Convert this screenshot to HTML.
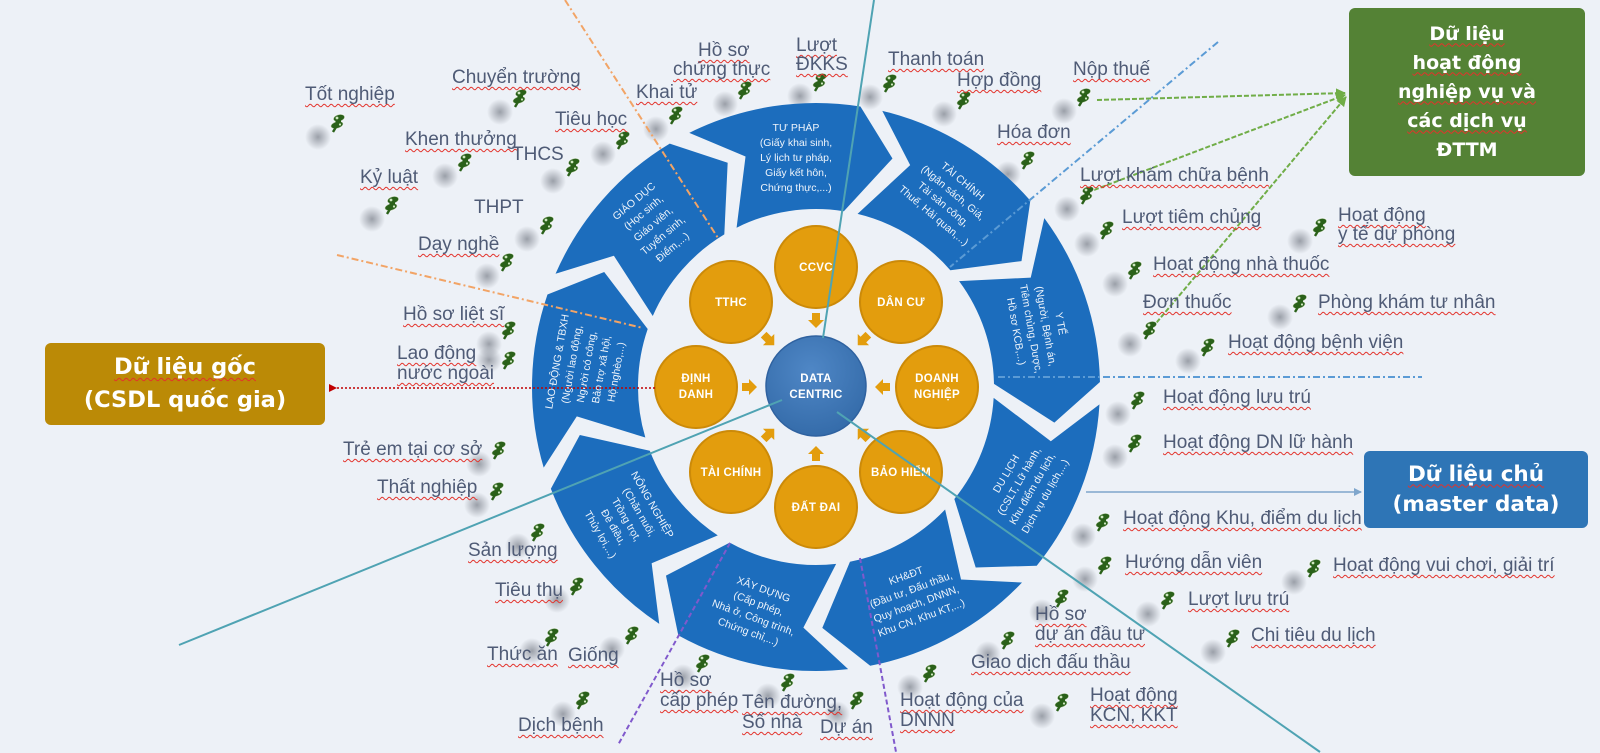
<!DOCTYPE html>
<html>
<head>
<meta charset="utf-8">
<style>
  html,body{margin:0;padding:0;}
  body{width:1600px;height:753px;overflow:hidden;background:#edf1f7;position:relative;font-family:"Liberation Sans","DejaVu Sans",sans-serif;}
  svg{position:absolute;left:0;top:0;}
  .l{position:absolute;font-size:19px;line-height:20px;color:#4f5b76;white-space:nowrap;
     text-decoration:underline wavy #e3322b;text-decoration-thickness:1px;text-underline-offset:3px;text-decoration-skip-ink:none;}
  .nu{text-decoration:none;}
  .box{position:absolute;color:#fff;font-family:"DejaVu Sans","Liberation Sans",sans-serif;font-weight:bold;text-align:center;border-radius:6px;
       display:flex;flex-direction:column;justify-content:center;align-items:center;}
  .u{text-decoration:underline wavy #e3322b;text-decoration-thickness:1px;text-underline-offset:3px;text-decoration-skip-ink:none;}
</style>
</head>
<body>
<svg width="1600" height="753" viewBox="0 0 1600 753" xmlns="http://www.w3.org/2000/svg">
  <defs>
    <radialGradient id="sg">
      <stop offset="0" stop-color="#868b95" stop-opacity="0.8"/>
      <stop offset="1" stop-color="#868b95" stop-opacity="0"/>
    </radialGradient>
    <circle id="sh" r="13" fill="url(#sg)"/>
    <g id="pin">
      <g stroke="#ffffff" stroke-width="1.2" stroke-opacity="0.7">
        <ellipse cx="1" cy="-5" rx="6" ry="3.6" transform="rotate(-15 1 -5)" fill="#2a6119"/>
        <ellipse cx="-1" cy="2" rx="6.5" ry="3.6" transform="rotate(-15 -1 2)" fill="#2a6119"/>
      </g>
      <rect x="-2.5" y="-5" width="5.5" height="7" fill="#2a6119"/>
      <path d="M-2,4 L-5,9" stroke="#2a6119" stroke-width="2.4"/>
      <circle cx="-1" cy="-5" r="1.4" fill="#cfe8c0"/>
      <circle cx="2" cy="1.5" r="1.1" fill="#cfe8c0"/>
    </g>
    <path id="seg" d="M689.28,132.84 A284,284 0 0 1 860.43,106.50 L892.47,158.45 L843.84,211.19 A178,178 0 0 0 736.58,227.70 L745.54,156.53 Z" fill="#1c6dbd"/>
    <path id="oa" d="M0,-8 L8,0 L4,0 L4,7 L-4,7 L-4,0 L-8,0 Z" fill="#e39d0d"/>
    <radialGradient id="dg" cx="0.45" cy="0.35" r="0.7">
      <stop offset="0" stop-color="#4f87c6"/>
      <stop offset="1" stop-color="#336aa8"/>
    </radialGradient>
    <marker id="mr" markerWidth="8" markerHeight="8" refX="1" refY="4" orient="auto-start-reverse" markerUnits="userSpaceOnUse">
      <path d="M8,0 L0,4 L8,8 Z" fill="#c00000"/>
    </marker>
    <marker id="mg" markerWidth="10" markerHeight="10" refX="9" refY="5" orient="auto" markerUnits="userSpaceOnUse">
      <path d="M0,0 L10,5 L0,10 Z" fill="#70ad47"/>
    </marker>
    <marker id="mb" markerWidth="8" markerHeight="8" refX="7" refY="4" orient="auto" markerUnits="userSpaceOnUse">
      <path d="M0,0 L8,4 L0,8 Z" fill="#7fa6cc"/>
    </marker>
  </defs>

  <!-- pin shadows -->
  <g>
    <use href="#sh" x="318" y="137"/><use href="#sh" x="500" y="112"/><use href="#sh" x="445" y="176"/>
    <use href="#sh" x="553" y="181"/><use href="#sh" x="603" y="154"/><use href="#sh" x="372" y="219"/>
    <use href="#sh" x="527" y="239"/><use href="#sh" x="487" y="276"/><use href="#sh" x="489" y="344"/>
    <use href="#sh" x="656" y="129"/><use href="#sh" x="725" y="104"/><use href="#sh" x="800" y="96"/>
    <use href="#sh" x="870" y="97"/><use href="#sh" x="944" y="114"/><use href="#sh" x="1064" y="111"/>
    <use href="#sh" x="1008" y="174"/><use href="#sh" x="1067" y="209"/><use href="#sh" x="1087" y="244"/>
    <use href="#sh" x="1300" y="241"/><use href="#sh" x="1115" y="284"/><use href="#sh" x="1130" y="344"/>
    <use href="#sh" x="1280" y="317"/><use href="#sh" x="1188" y="361"/><use href="#sh" x="1118" y="414"/>
    <use href="#sh" x="1115" y="457"/><use href="#sh" x="1083" y="536"/><use href="#sh" x="1085" y="579"/>
    <use href="#sh" x="1294" y="582"/><use href="#sh" x="1148" y="614"/><use href="#sh" x="1213" y="652"/>
    <use href="#sh" x="1042" y="612"/><use href="#sh" x="988" y="654"/><use href="#sh" x="910" y="687"/>
    <use href="#sh" x="1042" y="716"/><use href="#sh" x="518" y="546"/><use href="#sh" x="557" y="600"/>
    <use href="#sh" x="532" y="651"/><use href="#sh" x="612" y="649"/><use href="#sh" x="563" y="714"/>
    <use href="#sh" x="683" y="677"/><use href="#sh" x="768" y="696"/><use href="#sh" x="837" y="714"/>
    <use href="#sh" x="489" y="360"/><use href="#sh" x="479" y="464"/><use href="#sh" x="477" y="505"/>
  </g>

  <!-- ring segments -->
  <g font-family="Liberation Sans, DejaVu Sans, sans-serif" font-size="10.5" fill="#eef4fb" text-anchor="middle">
    <g>
      <use href="#seg"/>
      <text x="796"><tspan x="796" y="131">TƯ PHÁP</tspan><tspan x="796" y="146">(Giấy khai sinh,</tspan><tspan x="796" y="161">Lý lịch tư pháp,</tspan><tspan x="796" y="176">Giấy kết hôn,</tspan><tspan x="796" y="191">Chứng thực,...)</tspan></text>
    </g>
    <g transform="rotate(40 816 387)">
      <use href="#seg"/>
      <text><tspan x="796" y="138.5">TÀI CHÍNH</tspan><tspan x="796" y="153.5">(Ngân sách, Giá,</tspan><tspan x="796" y="168.5">Tài sản công,</tspan><tspan x="796" y="183.5">Thuế, Hải quan,...)</tspan></text>
    </g>
    <g transform="rotate(80 816 387)">
      <use href="#seg"/>
      <text><tspan x="796" y="138.5">Y TẾ</tspan><tspan x="796" y="153.5">(Người, Bệnh án,</tspan><tspan x="796" y="168.5">Tiêm chủng, Dược,</tspan><tspan x="796" y="183.5">Hồ sơ KCB,...)</tspan></text>
    </g>
    <g transform="rotate(120 816 387)">
      <use href="#seg"/>
      <text transform="rotate(180 796 157)"><tspan x="796" y="138.5">DU LỊCH</tspan><tspan x="796" y="153.5">(CSLT, Lữ hành,</tspan><tspan x="796" y="168.5">Khu điểm du lịch,</tspan><tspan x="796" y="183.5">Dịch vụ du lịch,...)</tspan></text>
    </g>
    <g transform="rotate(160 816 387)">
      <use href="#seg"/>
      <text transform="rotate(180 796 157)"><tspan x="796" y="138.5">KH&amp;ĐT</tspan><tspan x="796" y="153.5">(Đầu tư, Đấu thầu,</tspan><tspan x="796" y="168.5">Quy hoạch, DNNN,</tspan><tspan x="796" y="183.5">Khu CN, Khu KT,...)</tspan></text>
    </g>
    <g transform="rotate(200 816 387)">
      <use href="#seg"/>
      <text transform="rotate(180 796 157)"><tspan x="796" y="138.5">XÂY DỰNG</tspan><tspan x="796" y="153.5">(Cấp phép,</tspan><tspan x="796" y="168.5">Nhà ở, Công trình,</tspan><tspan x="796" y="183.5">Chứng chỉ,...)</tspan></text>
    </g>
    <g transform="rotate(240 816 387)">
      <use href="#seg"/>
      <text transform="rotate(180 796 157)"><tspan x="796" y="131">NÔNG NGHIỆP</tspan><tspan x="796" y="146">(Chăn nuôi,</tspan><tspan x="796" y="161">Trồng trọt,</tspan><tspan x="796" y="176">Đê điều,</tspan><tspan x="796" y="191">Thủy lợi,...)</tspan></text>
    </g>
    <g transform="rotate(280 816 387)">
      <use href="#seg"/>
      <text><tspan x="796" y="131">LAO ĐỘNG &amp; TBXH</tspan><tspan x="796" y="146">(Người lao động,</tspan><tspan x="796" y="161">Người có công,</tspan><tspan x="796" y="176">Bảo trợ xã hội,</tspan><tspan x="796" y="191">Hộ nghèo,...)</tspan></text>
    </g>
    <g transform="rotate(320 816 387)">
      <use href="#seg"/>
      <text><tspan x="796" y="131">GIÁO DỤC</tspan><tspan x="796" y="146">(Học sinh,</tspan><tspan x="796" y="161">Giáo viên,</tspan><tspan x="796" y="176">Tuyển sinh,</tspan><tspan x="796" y="191">Điểm,...)</tspan></text>
    </g>
  </g>

  <!-- inner circles -->
  <g fill="#e39d0d" stroke="#cc8a08" stroke-width="2">
    <circle cx="816" cy="267" r="41"/>
    <circle cx="901" cy="302" r="41"/>
    <circle cx="937" cy="387" r="41"/>
    <circle cx="901" cy="472" r="41"/>
    <circle cx="816" cy="507" r="41"/>
    <circle cx="731" cy="472" r="41"/>
    <circle cx="696" cy="387" r="41"/>
    <circle cx="731" cy="302" r="41"/>
  </g>
  <circle cx="816" cy="386" r="50" fill="url(#dg)" stroke="#2f62a0" stroke-width="1.5"/>
  <g>
    <use href="#oa" transform="translate(816 320) rotate(-180)"/>
    <use href="#oa" transform="translate(863.4 339.6) rotate(-135)"/>
    <use href="#oa" transform="translate(883 387) rotate(-90)"/>
    <use href="#oa" transform="translate(863.4 434.4) rotate(-45)"/>
    <use href="#oa" transform="translate(816 454) rotate(0)"/>
    <use href="#oa" transform="translate(768.6 434.4) rotate(45)"/>
    <use href="#oa" transform="translate(749 387) rotate(90)"/>
    <use href="#oa" transform="translate(768.6 339.6) rotate(135)"/>
  </g>
  <g font-family="Liberation Sans, DejaVu Sans, sans-serif" font-weight="bold" font-size="11.5" fill="#ffffff" text-anchor="middle" letter-spacing="0.3">
    <text x="816" y="271">CCVC</text>
    <text x="901" y="306">DÂN CƯ</text>
    <text x="937" y="382">DOANH</text><text x="937" y="398">NGHIỆP</text>
    <text x="901" y="476">BẢO HIỂM</text>
    <text x="816" y="511">ĐẤT ĐAI</text>
    <text x="731" y="476">TÀI CHÍNH</text>
    <text x="696" y="382">ĐỊNH</text><text x="696" y="398">DANH</text>
    <text x="731" y="306">TTHC</text>
    <text x="816" y="382">DATA</text><text x="816" y="398">CENTRIC</text>
  </g>

  <!-- connectors -->
  <g fill="none" stroke-width="2">
    <line x1="565" y1="0" x2="718" y2="238" stroke="#f2a466" stroke-dasharray="7,3,2,3"/>
    <line x1="337" y1="255" x2="643" y2="328" stroke="#f2a466" stroke-dasharray="7,3,2,3"/>
    <line x1="1218" y1="42" x2="950" y2="267" stroke="#5b9bd5" stroke-dasharray="7,3,2,3"/>
    <line x1="998" y1="377" x2="1422" y2="377" stroke="#5b9bd5" stroke-dasharray="7,3,2,3"/>
    <line x1="730" y1="543" x2="618" y2="745" stroke="#8059cc" stroke-dasharray="5,3"/>
    <line x1="860" y1="558" x2="896" y2="752" stroke="#8059cc" stroke-dasharray="5,3"/>
    <line x1="655" y1="388" x2="336" y2="388" stroke="#c00000" stroke-width="1.5" stroke-dasharray="2,2" marker-end="url(#mr)"/>
    <line x1="1097" y1="100" x2="1345" y2="93" stroke="#70ad47" stroke-dasharray="5,2" marker-end="url(#mg)"/>
    <line x1="1094" y1="190" x2="1345" y2="95" stroke="#70ad47" stroke-dasharray="5,2" marker-end="url(#mg)"/>
    <line x1="1152" y1="328" x2="1346" y2="97" stroke="#70ad47" stroke-dasharray="5,2" marker-end="url(#mg)"/>
    <line x1="1086" y1="492" x2="1361" y2="492" stroke="#7fa6cc" stroke-width="1.5" marker-end="url(#mb)"/>
    <line x1="874" y1="0" x2="823" y2="338" stroke="#4fa3b3"/>
    <line x1="179" y1="645" x2="782" y2="400" stroke="#4fa3b3"/>
    <line x1="837" y1="412" x2="1320" y2="752" stroke="#4fa3b3"/>
  </g>

  <!-- pins -->
  <g>
    <use href="#pin" x="338" y="123"/><use href="#pin" x="520" y="98"/><use href="#pin" x="465" y="162"/>
    <use href="#pin" x="573" y="167"/><use href="#pin" x="623" y="140"/><use href="#pin" x="392" y="205"/>
    <use href="#pin" x="547" y="225"/><use href="#pin" x="507" y="262"/><use href="#pin" x="509" y="330"/>
    <use href="#pin" x="676" y="115"/><use href="#pin" x="745" y="90"/><use href="#pin" x="820" y="82"/>
    <use href="#pin" x="890" y="83"/><use href="#pin" x="964" y="100"/><use href="#pin" x="1084" y="97"/>
    <use href="#pin" x="1028" y="160"/><use href="#pin" x="1087" y="195"/><use href="#pin" x="1107" y="230"/>
    <use href="#pin" x="1320" y="227"/><use href="#pin" x="1135" y="270"/><use href="#pin" x="1150" y="330"/>
    <use href="#pin" x="1300" y="303"/><use href="#pin" x="1208" y="347"/><use href="#pin" x="1138" y="400"/>
    <use href="#pin" x="1135" y="443"/><use href="#pin" x="1103" y="522"/><use href="#pin" x="1105" y="565"/>
    <use href="#pin" x="1314" y="568"/><use href="#pin" x="1168" y="600"/><use href="#pin" x="1233" y="638"/>
    <use href="#pin" x="1062" y="598"/><use href="#pin" x="1008" y="640"/><use href="#pin" x="930" y="673"/>
    <use href="#pin" x="1062" y="702"/><use href="#pin" x="538" y="532"/><use href="#pin" x="577" y="586"/>
    <use href="#pin" x="552" y="637"/><use href="#pin" x="632" y="635"/><use href="#pin" x="583" y="700"/>
    <use href="#pin" x="703" y="663"/><use href="#pin" x="788" y="682"/><use href="#pin" x="857" y="700"/>
    <use href="#pin" x="509" y="360"/><use href="#pin" x="499" y="450"/><use href="#pin" x="497" y="491"/>
  </g>
</svg>

<!-- boxes -->
<div class="box" style="left:1349px;top:8px;width:236px;height:168px;background:#548235;font-size:19px;line-height:29px;">
  <div><span class="u">Dữ liệu</span></div>
  <div><span class="u">hoạt động</span></div>
  <div><span class="u">nghiệp vụ và</span></div>
  <div><span class="u">các dịch vụ</span></div>
  <div>ĐTTM</div>
</div>
<div class="box" style="left:45px;top:343px;width:280px;height:82px;background:#bb8a06;font-size:22.5px;line-height:33px;">
  <div><span class="u">Dữ liệu gốc</span></div>
  <div>(CSDL quốc gia)</div>
</div>
<div class="box" style="left:1364px;top:451px;width:224px;height:77px;background:#2e75b6;font-size:21.5px;line-height:30px;">
  <div><span class="u">Dữ liệu chủ</span></div>
  <div>(master data)</div>
</div>

<!-- labels -->
<div class="l" style="left:305px;top:85px">Tốt nghiệp</div>
<div class="l" style="left:452px;top:68px">Chuyển trường</div>
<div class="l" style="left:405px;top:130px">Khen thưởng</div>
<div class="l nu" style="left:512px;top:145px">THCS</div>
<div class="l" style="left:555px;top:110px">Tiêu học</div>
<div class="l" style="left:360px;top:168px">Kỷ luật</div>
<div class="l nu" style="left:474px;top:198px">THPT</div>
<div class="l" style="left:418px;top:235px">Dạy nghề</div>
<div class="l" style="left:403px;top:305px">Hồ sơ liệt sĩ</div>
<div class="l" style="left:636px;top:83px">Khai tử</div>
<div class="l" style="left:698px;top:41px">Hồ sơ</div>
<div class="l" style="left:673px;top:60px">chứng thực</div>
<div class="l" style="left:796px;top:36px;line-height:19px">Lượt<br>ĐKKS</div>
<div class="l" style="left:888px;top:50px">Thanh toán</div>
<div class="l" style="left:957px;top:71px">Hợp đồng</div>
<div class="l" style="left:1073px;top:60px">Nộp thuế</div>
<div class="l" style="left:997px;top:123px">Hóa đơn</div>
<div class="l" style="left:1080px;top:166px">Lượt khám chữa bệnh</div>
<div class="l" style="left:1122px;top:208px">Lượt tiêm chủng</div>
<div class="l" style="left:1338px;top:206px;line-height:19px">Hoạt động<br>y tế dự phòng</div>
<div class="l" style="left:1153px;top:255px">Hoạt động nhà thuốc</div>
<div class="l" style="left:1143px;top:293px">Đơn thuốc</div>
<div class="l" style="left:1318px;top:293px">Phòng khám tư nhân</div>
<div class="l" style="left:1228px;top:333px">Hoạt động bệnh viện</div>
<div class="l" style="left:1163px;top:388px">Hoạt động lưu trú</div>
<div class="l" style="left:1163px;top:433px">Hoạt động DN lữ hành</div>
<div class="l" style="left:1123px;top:509px">Hoạt động Khu, điểm du lịch</div>
<div class="l" style="left:1125px;top:553px">Hướng dẫn viên</div>
<div class="l" style="left:1333px;top:556px">Hoạt động vui chơi, giải trí</div>
<div class="l" style="left:1188px;top:590px">Lượt lưu trú</div>
<div class="l" style="left:1251px;top:626px">Chi tiêu du lịch</div>
<div class="l" style="left:1035px;top:605px">Hồ sơ<br>dự án đầu tư</div>
<div class="l" style="left:971px;top:653px">Giao dịch đấu thầu</div>
<div class="l" style="left:900px;top:691px">Hoạt động của<br>DNNN</div>
<div class="l" style="left:1090px;top:686px">Hoạt động<br>KCN, KKT</div>
<div class="l" style="left:468px;top:541px">Sản lượng</div>
<div class="l" style="left:495px;top:581px">Tiêu thụ</div>
<div class="l" style="left:487px;top:645px">Thức ăn</div>
<div class="l" style="left:568px;top:646px">Giống</div>
<div class="l" style="left:518px;top:716px">Dịch bệnh</div>
<div class="l" style="left:660px;top:671px">Hồ sơ<br>cấp phép</div>
<div class="l" style="left:742px;top:693px">Tên đường,<br>Số nhà</div>
<div class="l" style="left:820px;top:718px">Dự án</div>
<div class="l" style="left:397px;top:344px">Lao động<br>nước ngoài</div>
<div class="l" style="left:343px;top:440px">Trẻ em tại cơ sở</div>
<div class="l" style="left:377px;top:478px">Thất nghiệp</div>
</body>
</html>
